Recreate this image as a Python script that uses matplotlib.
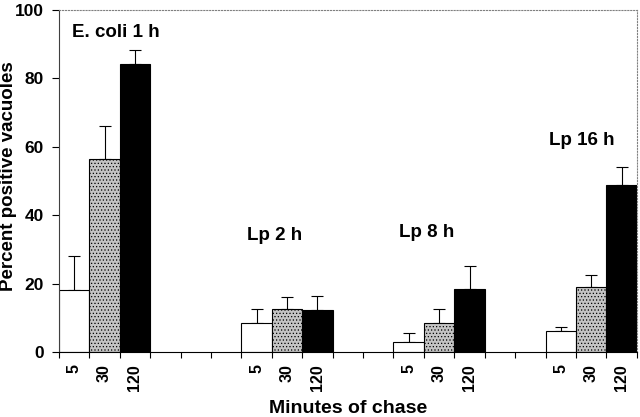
import numpy as np
import matplotlib.pyplot as plt

plt.rcParams['font.family'] = ['Liberation Sans', 'DejaVu Sans']
plt.rcParams['font.weight'] = 'bold'
plt.rcParams['hatch.color'] = '#707070'
plt.rcParams['hatch.linewidth'] = 0.5

groups = ['E. coli 1 h', 'Lp 2 h', 'Lp 8 h', 'Lp 16 h']
chase = ['5', '30', '120']

# percent positive vacuoles per group, in order 5, 30, 120 min
vals_5 = [18.1, 8.6, 2.9, 6.2]
vals_30 = [56.3, 12.5, 8.4, 19.1]
vals_120 = [84.2, 12.3, 18.3, 48.7]

err_5 = [10.0, 4.1, 2.5, 1.0]
err_30 = [9.9, 3.5, 4.1, 3.4]
err_120 = [4.1, 4.0, 6.7, 5.3]

# first slot of each group on the 19-slot axis
group_start = [0, 6, 11, 16]
n_slots = 19

fig = plt.figure(figsize=(6.4, 4.17), dpi=100)
ax = fig.add_axes([0.092, 0.156, 0.903, 0.82])

series = [(vals_5, err_5, dict(color='white', edgecolor='black')),
          (vals_30, err_30, dict(color='#c4c4c4', edgecolor='black', hatch='.....')),
          (vals_120, err_120, dict(color='black', edgecolor='black'))]

tick_pos = []
tick_lab = []
for k, (vals, errs, style) in enumerate(series):
    x = np.array(group_start) + k + 0.5
    ax.bar(x, vals, width=1.0, linewidth=0.8, zorder=2, **style)
    ax.errorbar(x, vals, yerr=[np.zeros(len(errs)), errs], fmt='none',
                ecolor='black', elinewidth=0.8, capsize=4, capthick=0.8, zorder=1)
    tick_pos.extend(list(x))
    tick_lab.extend([chase[k]] * len(x))

# group label positions (slot, value)
label_pos = [(0.43, 93.3), (7.08, 34.2), (12.1, 35.0), (17.2, 61.7)]
for i, (name, (lx, ly)) in enumerate(zip(groups, label_pos)):
    ax.text(lx, ly, name, ha='left' if i == 0 else 'center', va='center',
            fontsize=13.5, fontweight='bold')

ax.set_xlim(0, n_slots)
ax.set_ylim(0, 100)
ax.set_yticks([0, 20, 40, 60, 80, 100])
ax.tick_params(axis='y', labelsize=12.5, direction='out', length=5, width=0.8, pad=6)

ax.set_xticks(np.arange(0, n_slots + 1), minor=True)
ax.set_xticks(tick_pos)
ax.set_xticklabels(tick_lab, rotation=90, fontsize=11.5)
ax.tick_params(axis='x', which='major', length=0, pad=9)
ax.tick_params(axis='x', which='minor', direction='out', length=4, width=0.8)

for s in ['top', 'right']:
    ax.spines[s].set_linestyle(':')
    ax.spines[s].set_color('#808080')
    ax.spines[s].set_linewidth(0.8)
ax.spines['left'].set_color('#404040')
ax.spines['left'].set_linewidth(0.8)
ax.spines['bottom'].set_linewidth(0.8)

ax.set_ylabel('Percent positive vacuoles', fontsize=13.5, fontweight='bold')
ax.yaxis.set_label_coords(-0.073, 0.515)
ax.set_xlabel('Minutes of chase', fontsize=14, fontweight='bold', labelpad=6)

fig.savefig('out.png', dpi=100)
